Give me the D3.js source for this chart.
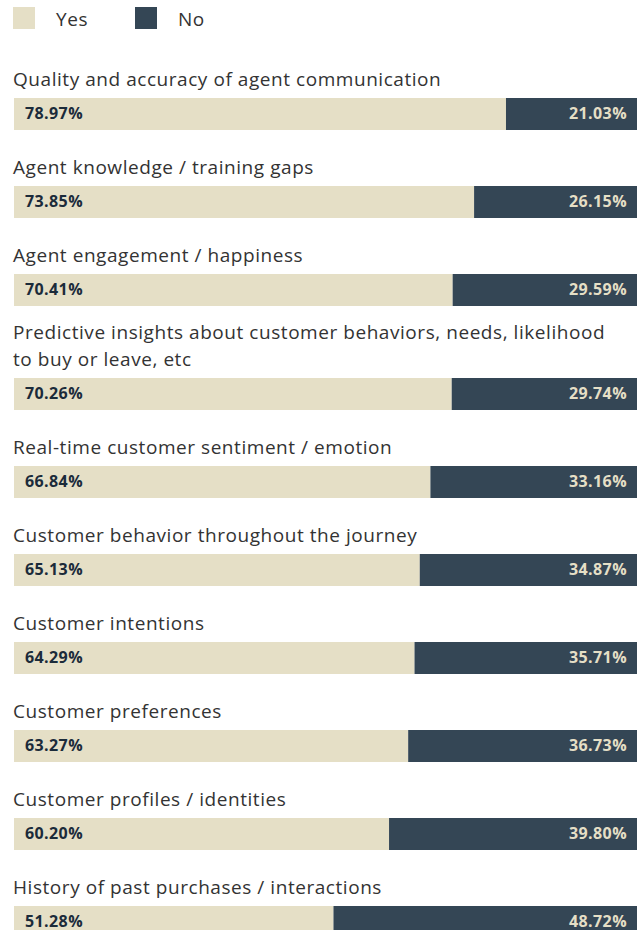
<!DOCTYPE html>
<html>
<head>
<meta charset="utf-8">
<script src="https://cdn.jsdelivr.net/npm/d3@7"></script>
<style>
  html, body { margin: 0; padding: 0; background: #fff; }
  svg { display: block; }
</style>
</head>
<body>
<svg id="chart" width="641" height="930"></svg>
<script>
// Survey topics, in display order
const categories = [
  "Quality and accuracy of agent communication",
  "Agent knowledge / training gaps",
  "Agent engagement / happiness",
  "Predictive insights about customer behaviors, needs, likelihood to buy or leave, etc",
  "Real-time customer sentiment / emotion",
  "Customer behavior throughout the journey",
  "Customer intentions",
  "Customer preferences",
  "Customer profiles / identities",
  "History of past purchases / interactions"
];
const yesValues = [78.97, 73.85, 70.41, 70.26, 66.84, 65.13, 64.29, 63.27, 60.20, 51.28];
const noValues  = [21.03, 26.15, 29.59, 29.74, 33.16, 34.87, 35.71, 36.73, 39.80, 48.72];
const seriesNames = ["Yes", "No"];

const colors = { Yes: "#e5dfc6", No: "#344655" };
const labelFont = "'Open Sans', sans-serif";
const labelSize = 19;
const labelSpacing = 0.55;

const svg = d3.select("#chart");
const x = d3.scaleLinear().domain([0, 100]).range([14, 637]);
const barH = 32;
const lineH = 27;

// Legend
const legend = svg.append("g");
const legendX = [13, 135];
seriesNames.forEach((name, i) => {
  legend.append("rect")
    .attr("x", legendX[i]).attr("y", 7)
    .attr("width", 22).attr("height", 22)
    .attr("fill", colors[name]);
  legend.append("text")
    .attr("x", legendX[i] + 43).attr("y", 26)
    .attr("font-family", labelFont).attr("font-size", labelSize)
    .attr("letter-spacing", labelSpacing)
    .attr("fill", "#333")
    .text(name);
});

// Wrap a category label into lines that fit the bar width
const measure = svg.append("text")
  .attr("font-family", labelFont).attr("font-size", labelSize)
  .attr("letter-spacing", labelSpacing)
  .attr("visibility", "hidden");
function wrap(str, maxW) {
  const words = str.split(" ");
  const lines = [];
  let cur = "";
  words.forEach(w => {
    const trial = cur ? cur + " " + w : w;
    measure.text(trial);
    if (cur && measure.node().getComputedTextLength() > maxW) {
      lines.push(cur);
      cur = w;
    } else {
      cur = trial;
    }
  });
  if (cur) lines.push(cur);
  return lines;
}

const rows = categories.map((c, i) => ({
  category: c,
  yes: yesValues[i],
  no: noValues[i],
  lines: wrap(c, 610)
}));
measure.remove();

// Stack rows vertically: wrapped labels push the following bars down
let barY = 98;
rows.forEach((r, i) => {
  if (i > 0) barY += 88 + (r.lines.length - 1) * 16;
  r.barTop = barY;
});

const row = svg.selectAll("g.row").data(rows).join("g").attr("class", "row");

row.each(function(r) {
  const g = d3.select(this);
  const n = r.lines.length;
  r.lines.forEach((line, k) => {
    g.append("text")
      .attr("x", 13)
      .attr("y", r.barTop - 12 - (n - 1 - k) * lineH)
      .attr("font-family", labelFont).attr("font-size", labelSize)
      .attr("letter-spacing", labelSpacing)
      .attr("fill", "#333")
      .text(line);
  });
  g.append("rect")
    .attr("x", x(0)).attr("y", r.barTop)
    .attr("width", x(r.yes) - x(0)).attr("height", barH)
    .attr("fill", colors.Yes);
  g.append("rect")
    .attr("x", x(r.yes)).attr("y", r.barTop)
    .attr("width", x(100) - x(r.yes)).attr("height", barH)
    .attr("fill", colors.No);
  g.append("text")
    .attr("x", x(0) + 11).attr("y", r.barTop + 21)
    .attr("font-family", labelFont).attr("font-size", 16).attr("font-weight", 700)
    .attr("letter-spacing", 0.4)
    .attr("fill", "#1b2b3a")
    .text(r.yes.toFixed(2) + "%");
  g.append("text")
    .attr("x", x(100) - 10).attr("y", r.barTop + 21)
    .attr("text-anchor", "end")
    .attr("font-family", labelFont).attr("font-size", 16).attr("font-weight", 700)
    .attr("letter-spacing", 0.4)
    .attr("fill", "#e5dfc6")
    .text(r.no.toFixed(2) + "%");
});
</script>
</body>
</html>
